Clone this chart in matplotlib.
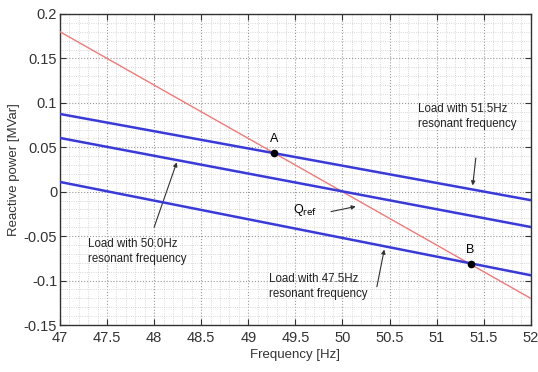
"""Reactive power vs frequency for loads with different resonant frequencies."""

import matplotlib

matplotlib.use("Agg")
import matplotlib.pyplot as plt
from matplotlib.ticker import MultipleLocator

# line end points
freq = [47.0, 52.0]
q_ref = [0.18, -0.12]
q_load_515 = [0.0875, -0.0095]
q_load_500 = [0.0605, -0.0397]
q_load_475 = [0.011, -0.094]

# operating points A and B
point_freq = [49.27, 51.37]
point_q = [0.0436, -0.0813]
point_labels = ["A", "B"]

x_ticks = [47, 47.5, 48, 48.5, 49, 49.5, 50, 50.5, 51, 51.5, 52]
x_tick_labels = ["47", "47.5", "48", "48.5", "49", "49.5", "50", "50.5", "51", "51.5", "52"]
y_ticks = [-0.15, -0.1, -0.05, 0, 0.05, 0.1, 0.15, 0.2]
y_tick_labels = ["-0.15", "-0.1", "-0.05", "0", "0.05", "0.1", "0.15", "0.2"]

plt.rcParams.update({"font.family": ["Liberation Sans", "DejaVu Sans"]})

fig = plt.figure(figsize=(5.38, 3.72), dpi=100)
ax = fig.add_axes([0.1115, 0.1263, 0.875, 0.8361])

blue = "#3a3ad8"
text_color = "#333333"
ax.plot(freq, q_ref, color="#f07a7a", linewidth=1.0, zorder=3)
for q in (q_load_515, q_load_500, q_load_475):
    ax.plot(freq, q, color=blue, linewidth=1.8, zorder=4)
ax.plot(point_freq, point_q, "o", color="black", markersize=4.5, zorder=5)

ax.set_xlim(47, 52)
ax.set_ylim(-0.15, 0.2)
ax.set_xticks(x_ticks, x_tick_labels)
ax.set_yticks(y_ticks, y_tick_labels)
ax.xaxis.set_minor_locator(MultipleLocator(0.1))
ax.yaxis.set_minor_locator(MultipleLocator(0.01))
ax.tick_params(which="both", direction="in", top=True, right=True, labelsize=10.5,
               colors=text_color)
ax.tick_params(axis="x", pad=4)
ax.tick_params(axis="y", pad=2)
ax.tick_params(which="minor", length=0)
ax.tick_params(which="major", length=4)
ax.grid(True, which="major", color="#999999", linestyle=":", linewidth=0.8)
ax.grid(True, which="minor", color="#cccccc", linestyle=":", linewidth=0.6)
for spine in ax.spines.values():
    spine.set_color(text_color)
    spine.set_linewidth(1.0)

ax.set_xlabel("Frequency [Hz]", fontsize=9.5, color=text_color, labelpad=3)
ax.set_ylabel("Reactive power [MVar]", fontsize=9.5, color=text_color, labelpad=3)

ax.text(49.27, 0.059, point_labels[0], fontsize=9, ha="center", va="center")
ax.text(51.36, -0.066, point_labels[1], fontsize=9, ha="center", va="center")

arrow = dict(arrowstyle="-|>", color=text_color, linewidth=0.8, mutation_scale=6)
note = dict(fontsize=8.3, ha="left", va="top", color="#222222", linespacing=1.35)
ax.text(50.8, 0.1, "Load with 51.5Hz\nresonant frequency", **note)
ax.annotate("", xy=(51.38, 0.004), xytext=(51.42, 0.041), arrowprops=arrow)
ax.text(47.3, -0.052, "Load with 50.0Hz\nresonant frequency", **note)
ax.annotate("", xy=(48.25, 0.036), xytext=(47.99, -0.043), arrowprops=arrow)
ax.text(49.22, -0.091, "Load with 47.5Hz\nresonant frequency", **note)
ax.annotate("", xy=(50.45, -0.062), xytext=(50.36, -0.11), arrowprops=arrow)
ax.text(49.6, -0.021, r"Q$_{\rm ref}$", fontsize=9, ha="center", va="center")
ax.annotate("", xy=(50.17, -0.016), xytext=(49.85, -0.023), arrowprops=arrow)

fig.savefig("out.png", dpi=100)
